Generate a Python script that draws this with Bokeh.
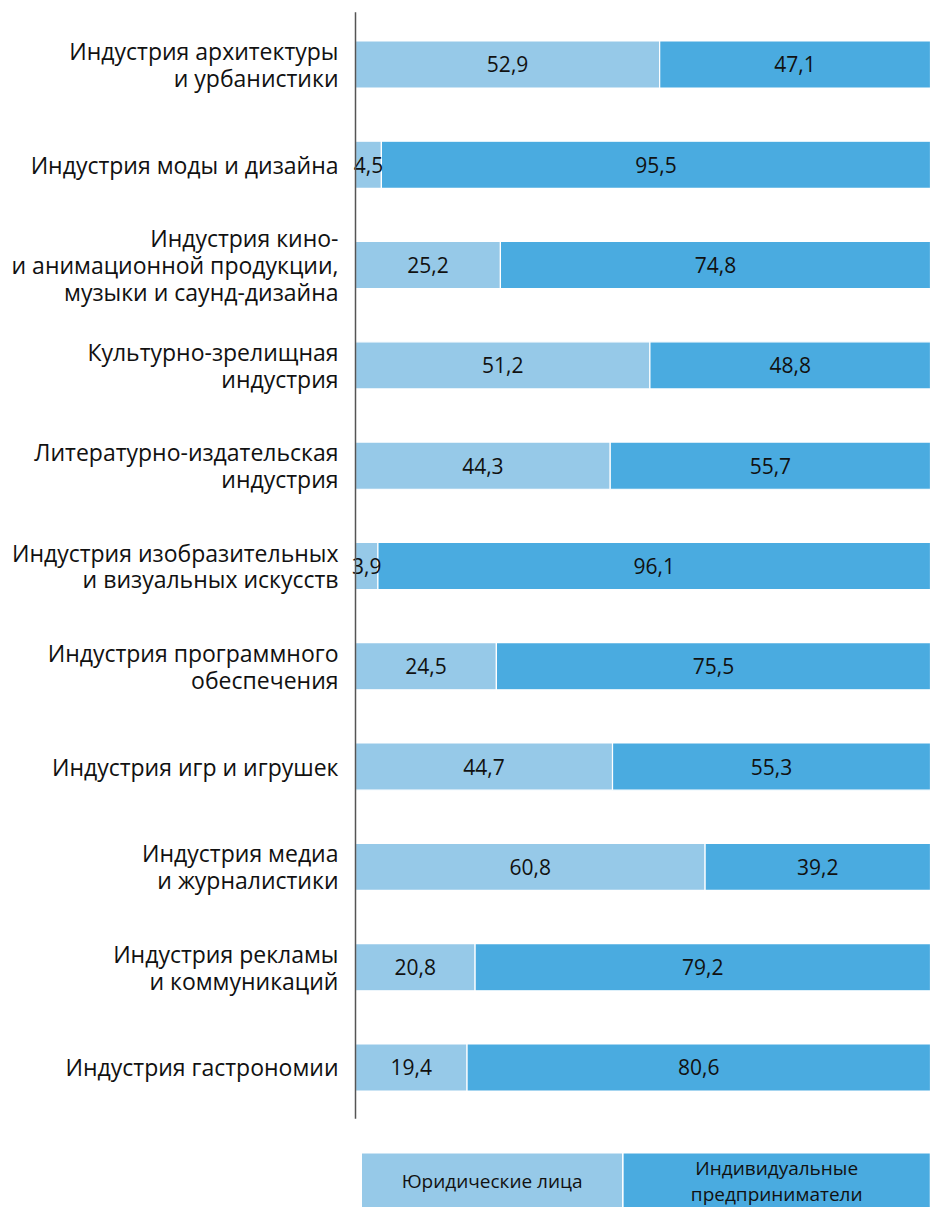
from bokeh.plotting import figure
from bokeh.models import ColumnDataSource, Range1d
from bokeh.core.properties import value
from bokeh.embed import file_html
from bokeh.resources import INLINE

categories = [
    "Индустрия архитектуры\nи урбанистики",
    "Индустрия моды и дизайна",
    "Индустрия кино-\nи анимационной продукции,\nмузыки и саунд-дизайна",
    "Культурно-зрелищная\nиндустрия",
    "Литературно-издательская\nиндустрия",
    "Индустрия изобразительных\nи визуальных искусств",
    "Индустрия программного\nобеспечения",
    "Индустрия игр и игрушек",
    "Индустрия медиа\nи журналистики",
    "Индустрия рекламы\nи коммуникаций",
    "Индустрия гастрономии",
]
legal_entities = [52.9, 4.5, 25.2, 51.2, 44.3, 3.9, 24.5, 44.7, 60.8, 20.8, 19.4]
individual_entrepreneurs = [47.1, 95.5, 74.8, 48.8, 55.7, 96.1, 75.5, 55.3, 39.2, 79.2, 80.6]
series_names = ["Юридические лица", "Индивидуальные\nпредприниматели"]

LIGHT = "#96c9e8"
DARK = "#4aabe0"
FONT = "Open Sans"

def fmt(v):
    return f"{v:.1f}".replace(".", ",")

n = len(categories)
idx = list(range(n))
src = ColumnDataSource(dict(
    y=idx,
    cat=categories,
    a_end=legal_entities,
    b_end=[a + b for a, b in zip(legal_entities, individual_entrepreneurs)],
    zero=[0] * n,
    a_mid=[a / 2 for a in legal_entities],
    b_mid=[a + b / 2 for a, b in zip(legal_entities, individual_entrepreneurs)],
    a_lbl=[fmt(v) for v in legal_entities],
    b_lbl=[fmt(v) for v in individual_entrepreneurs],
))

W, H = 930, 1207
p = figure(width=W, height=H, output_backend="svg", toolbar_location=None,
           x_range=Range1d(-61.74, 100), y_range=Range1d(11.396, -0.638),
           x_axis_location=None, y_axis_location=None,
           min_border=0, min_border_left=0, min_border_right=0,
           min_border_top=0, min_border_bottom=0)
p.outline_line_color = None
p.xgrid.visible = False
p.ygrid.visible = False
p.background_fill_color = "white"

BH = 0.47
p.hbar(y="y", left="zero", right="a_end", height=BH, source=src,
       fill_color=LIGHT, line_color="white", line_width=1.2)
p.hbar(y="y", left="a_end", right="b_end", height=BH, source=src,
       fill_color=DARK, line_color="white", line_width=1.2)

p.text(x="a_mid", y="y", text="a_lbl", source=src, text_align="center",
       text_baseline="middle", text_font=value(FONT), text_font_size="21px",
       text_color="#111111")
p.text(x="b_mid", y="y", text="b_lbl", source=src, text_align="center",
       text_baseline="middle", text_font=value(FONT), text_font_size="21px",
       text_color="#111111")

p.text(x="zero", y="y", text="cat", source=src, x_offset=-17,
       text_align="right", text_baseline="middle", text_font=value(FONT),
       text_font_size="23px", text_color="#111111", text_line_height=0.84)

# vertical axis line
p.segment(x0=[0], y0=[-0.52], x1=[0], y1=[n - 0.49], line_color="#555555",
          line_width=1.5)

# legend boxes
leg_top = n - 0.15
leg_bot = n + 0.6
split = 46.5
p.quad(left=[1.0, split], right=[split, 100], top=[leg_top, leg_top],
       bottom=[leg_bot, leg_bot], fill_color=[LIGHT, DARK],
       line_color="white", line_width=1.5)
p.text(x=[(1.0 + split) / 2, (split + 100) / 2], y=[leg_top + 0.28, leg_top + 0.28],
       text=series_names, text_align="center", text_baseline="middle",
       text_font=value(FONT), text_font_size="19px", text_color="#111111",
       text_line_height=0.98)

open("out.html", "w").write(file_html(p, INLINE))
